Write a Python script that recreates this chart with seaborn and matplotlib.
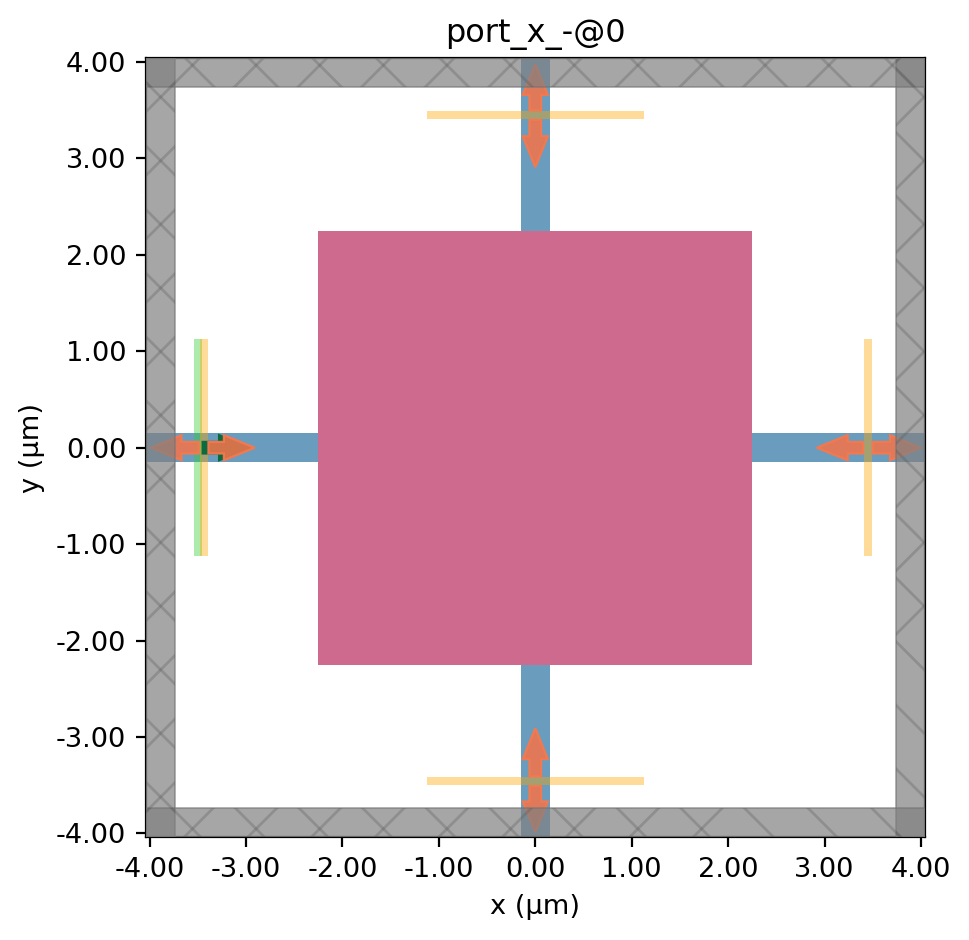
import matplotlib

matplotlib.use("Agg")
import matplotlib.pyplot as plt
import numpy as np
import seaborn as sns
from matplotlib.patches import FancyArrow, Rectangle

DPI = 200

x_ticks = [-4, -3, -2, -1, 0, 1, 2, 3, 4]
y_ticks = [-4, -3, -2, -1, 0, 1, 2, 3, 4]
lim = 4.04
pml_inner = 3.74

box_half = 2.25
wg_half = 0.15

# monitors / source: centre x, centre y, size x, size y
monitor_x = [-3.44, 3.45, 0.0, 0.0]
monitor_y = [0.0, 0.0, 3.45, -3.46]
monitor_w = [0.08, 0.08, 2.25, 2.25]
monitor_h = [2.25, 2.25, 0.08, 0.08]
source_x = -3.50
source_w = 0.08
source_h = 2.25

# port arrows: start x, start y, dx, dy
arrow_x = [-3.49, -3.39, 3.40, 3.50, 0.0, 0.0, 0.0, 0.0]
arrow_y = [0.0, 0.0, 0.0, 0.0, 3.50, 3.40, -3.41, -3.51]
arrow_dx = [-0.50, 0.48, -0.48, 0.50, 0.0, 0.0, 0.0, 0.0]
arrow_dy = [0.0, 0.0, 0.0, 0.0, 0.48, -0.49, 0.50, -0.48]
source_arrow = [-3.45, 0.0, 0.49, 0.0]

# cross hatch of the boundary bands
hatch_step = 0.66
hatch_x0 = -3.886
hatch_y0 = 3.637


def add_arrow(ax, x, y, dx, dy, face, edge, zorder):
    ax.add_patch(
        FancyArrow(
            x, y, dx, dy,
            width=0.12,
            head_width=0.26,
            head_length=0.32,
            length_includes_head=True,
            facecolor=face,
            edgecolor=edge,
            linewidth=0.8,
            zorder=zorder,
        )
    )


sns.set_theme(
    style="ticks",
    font="DejaVu Sans",
    rc={
        "font.size": 10,
        "axes.titlesize": 11.5,
        "axes.labelsize": 9.8,
        "xtick.labelsize": 9.8,
        "ytick.labelsize": 9.8,
        "axes.linewidth": 0.8,
        "xtick.major.width": 0.8,
        "ytick.major.width": 0.8,
        "xtick.major.size": 3.5,
        "ytick.major.size": 3.5,
        "xtick.major.pad": 3.5,
        "ytick.major.pad": 3.5,
        "axes.labelpad": 4,
        "axes.titlepad": 6,
        "axes.edgecolor": "black",
        "xtick.color": "black",
        "ytick.color": "black",
        "text.color": "black",
        "axes.labelcolor": "black",
        "axes.unicode_minus": False,
    },
)

fig = plt.figure(figsize=(970 / DPI, 940 / DPI), dpi=DPI)
ax = fig.add_axes([145.8 / 970, 1 - 837.2 / 940, 779 / 970, 779 / 940])

# waveguides and centre box
ax.add_patch(Rectangle((-lim, -wg_half), 2 * lim, 2 * wg_half, color="#6a9dbd", lw=0, zorder=1))
ax.add_patch(Rectangle((-wg_half, -lim), 2 * wg_half, 2 * lim, color="#6a9dbd", lw=0, zorder=1))
ax.add_patch(
    Rectangle((-box_half, -box_half), 2 * box_half, 2 * box_half, color="#cf6a8f", lw=0, zorder=1.5)
)

# source plane
ax.add_patch(
    Rectangle(
        (source_x - source_w / 2, -source_h / 2),
        source_w,
        source_h,
        facecolor="limegreen",
        alpha=0.4,
        lw=0,
        zorder=2,
    )
)

for x, y, w, h in zip(monitor_x, monitor_y, monitor_w, monitor_h):
    ax.add_patch(
        Rectangle((x - w / 2, y - h / 2), w, h, facecolor="orange", alpha=0.4, lw=0, zorder=3)
    )

# source arrow sits under the port arrows but over the planes
add_arrow(ax, *source_arrow, "#0b6b3f", "#0b6b3f", 3.1)
for x, y, dx, dy in zip(arrow_x, arrow_y, arrow_dx, arrow_dy):
    add_arrow(ax, x, y, dx, dy, (0.94, 0.46, 0.30, 0.88), (0.97, 0.47, 0.30, 0.95), 3.2)

# absorbing boundary bands
pml_w = lim - pml_inner
bands = [
    (-lim, -lim, pml_w, 2 * lim),
    (pml_inner, -lim, pml_w, 2 * lim),
    (-lim, -lim, 2 * lim, pml_w),
    (-lim, pml_inner, 2 * lim, pml_w),
]
hatch_n = np.arange(-20, 21)
for x, y, w, h in bands:
    band = Rectangle(
        (x, y), w, h,
        facecolor=(0.5, 0.5, 0.5, 0.7),
        edgecolor=(0.45, 0.45, 0.45, 0.55),
        linewidth=0.7,
        zorder=4,
    )
    ax.add_patch(band)
    for k in hatch_n:
        for sign in (1, -1):
            c = hatch_y0 - sign * hatch_x0 + k * hatch_step
            line = ax.plot(
                [-lim, lim],
                [c - sign * lim, c + sign * lim],
                color=(0.35, 0.35, 0.35, 0.3),
                lw=1.0,
                zorder=4.1,
                scalex=False,
                scaley=False,
            )[0]
            line.set_clip_path(band)

ax.set_xlim(-lim, lim)
ax.set_ylim(-lim, lim)
ax.set_aspect("equal")
ax.set_xticks(x_ticks)
ax.set_yticks(y_ticks)
ax.set_xticklabels([f"{v:.2f}" for v in x_ticks])
ax.set_yticklabels([f"{v:.2f}" for v in y_ticks])
ax.set_xlabel("x (μm)")
ax.set_ylabel("y (μm)")
ax.set_title("port_x_-@0")

fig.savefig("out.png", dpi=DPI)
